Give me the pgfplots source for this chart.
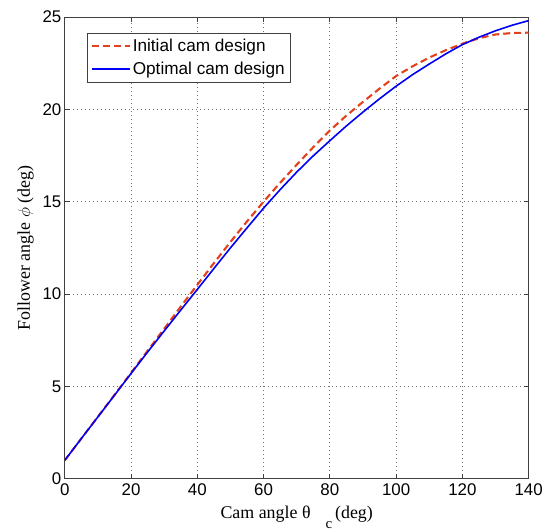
\documentclass[border=0pt]{standalone}
\usepackage{pgfplots}
\pgfplotsset{compat=1.18}
\usepackage{fontspec}
\setmainfont{Liberation Serif}
\newfontfamily\arialfont{Liberation Sans}
\definecolor{initred}{RGB}{228,64,26}
\definecolor{optblue}{RGB}{0,0,245}
\begin{document}
\begin{tikzpicture}
\begin{axis}[
  scale only axis, width=465bp, height=463bp,
  xmin=0, xmax=140, ymin=0, ymax=25,
  xtick={0,20,...,140}, ytick={0,5,...,25},
  tick align=inside, tick pos=both,
  major tick length=5bp,
  grid=major,
  major grid style={black!55, dash pattern=on 1bp off 3bp, line width=0.7bp},
  axis line style={black!75, line width=0.8bp},
  tick style={black!75, line width=0.8bp},
  /pgf/number format/assume math mode=true,
  ticklabel style={font=\arialfont\fontsize{17}{19}\selectfont},
  xticklabel style={yshift=-1bp},
  xlabel={Cam angle θ\hspace{15bp}\raisebox{-10bp}{\fontsize{15}{15}\selectfont c}\hspace{3bp}(deg)},
  ylabel={Follower angle $\phi$ (deg)},
  label style={font=\fontsize{18}{20}\selectfont},
  xlabel style={yshift=-4bp},
  ylabel style={yshift=2bp},
  legend style={at={(0.047,0.965)}, anchor=north west,
    font=\arialfont\fontsize{17.3}{20}\selectfont,
    draw=black!75, inner sep=4bp, row sep=5bp},
  legend cell align=left,
  legend image code/.code={\draw[#1] (0bp,0bp) -- (38bp,0bp);},
]
\addplot[initred, line width=2.1bp, dash pattern=on 7bp off 4bp] coordinates {
(0,1.0) (5,2.18) (10,3.36) (15,4.54) (20,5.73) (25,6.93) (30,8.12) (35,9.32)
(40,10.50) (45,11.67) (50,12.82) (55,13.93) (60,15.00) (65,16.02) (70,17.00)
(75,17.95) (80,18.85) (85,19.66) (90,20.40) (95,21.12) (100,21.80) (105,22.33)
(110,22.80) (115,23.20) (120,23.55) (125,23.85) (130,24.05) (135,24.13) (140,24.15)
};
\addlegendentry{Initial cam design}
\addplot[optblue, line width=1.6bp] coordinates {
(0,1.0) (5,2.18) (10,3.35) (15,4.52) (20,5.70) (25,6.86) (30,8.00) (35,9.13)
(40,10.25) (45,11.38) (50,12.50) (55,13.58) (60,14.65) (65,15.65) (70,16.60)
(75,17.48) (80,18.30) (85,19.10) (90,19.85) (95,20.57) (100,21.25) (105,21.88)
(110,22.45) (115,23.00) (120,23.50) (125,23.90) (130,24.25) (135,24.55) (140,24.80)
};
\addlegendentry{Optimal cam design}
\end{axis}
\path ([xshift=-65bp,yshift=-53bp]current axis.south west) rectangle ([xshift=16bp,yshift=17bp]current axis.north east);
\end{tikzpicture}
\end{document}
